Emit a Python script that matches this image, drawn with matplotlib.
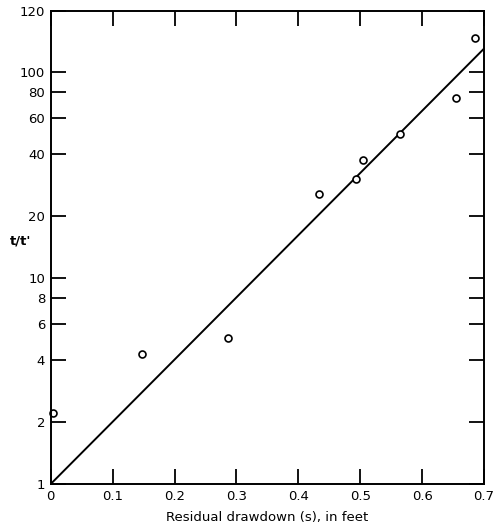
import matplotlib
matplotlib.use("Agg")
import matplotlib.pyplot as plt

# observed points: residual drawdown (ft) vs t/t'
s_obs = [0.003, 0.147, 0.286, 0.434, 0.494, 0.504, 0.565, 0.655, 0.686]
ratio_obs = [2.2, 4.3, 5.1, 25.5, 30.2, 37.4, 50, 75, 146]

# fitted straight line (semilog)
s_fit = [0.0, 0.7]
ratio_fit = [1.0, 130.0]

xticks = [0, 0.1, 0.2, 0.3, 0.4, 0.5, 0.6, 0.7]
xlabels = ["0", "0.1", "0.2", "0.3", "0.4", "0.5", "0.6", "0.7"]
yticks = [1, 2, 4, 6, 8, 10, 20, 40, 60, 80, 100, 198]
ylabels = ["1", "2", "4", "6", "8", "10", "20", "40", "60", "80", "100", "120"]

fig = plt.figure(figsize=(5.0, 5.24), dpi=100)
ax = fig.add_axes([0.1014, 0.0763, 0.8666, 0.9027])

ax.plot(s_fit, ratio_fit, color="black", lw=1.4)
ax.plot(s_obs, ratio_obs, "o", mfc="white", mec="black", mew=1.2, ms=5, clip_on=False)

ax.set_yscale("log")
ax.set_xlim(0, 0.7)
ax.set_ylim(1, 198)
ax.minorticks_off()
ax.set_xticks(xticks)
ax.set_xticklabels(xlabels)
ax.set_yticks(yticks)
ax.set_yticklabels(ylabels)

ax.tick_params(direction="in", length=11, width=1.3, labelsize=9.5, top=True, right=True)
ax.tick_params(axis="x", pad=4)
ax.tick_params(axis="y", pad=4)
for lab in ax.get_xticklabels() + ax.get_yticklabels():
    lab.set_fontweight("medium")
for sp in ax.spines.values():
    sp.set_linewidth(1.4)

ax.set_xlabel("Residual drawdown (s), in feet", fontsize=9.5, labelpad=6)
ax.set_ylabel("t/t'", fontsize=9.5, rotation=0, labelpad=10, fontweight="bold")
ax.yaxis.set_label_coords(-0.07, 0.5)

fig.savefig("out.png", dpi=100)
